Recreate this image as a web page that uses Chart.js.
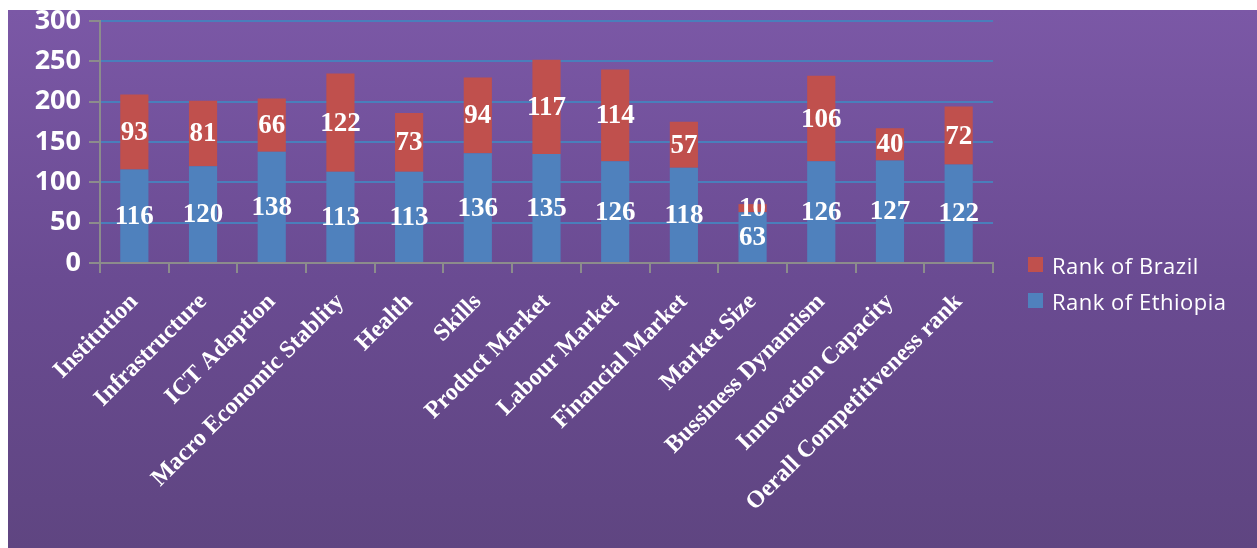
<!DOCTYPE html>
<html>
<head>
<meta charset="utf-8">
<script src="https://cdn.jsdelivr.net/npm/chart.js@4/dist/chart.umd.min.js"></script>
<style>
  html, body { margin: 0; padding: 0; background: #ffffff; width: 1257px; height: 548px; overflow: hidden; }
  #frame { position: absolute; left: 8px; top: 10px; width: 1249px; height: 538px;
           background: linear-gradient(to bottom, #7b58a6 0%, #6a4b92 50%, #5f4581 100%); }
  #chart { position: absolute; left: 0; top: 0; width: 1249px; height: 538px; }
  #legend { position: absolute; left: 1020px; top: 237px; font-family: "Open Sans", "Noto Sans", sans-serif;
            font-size: 22px; letter-spacing: 0.5px; color: #ffffff; }
  .item { position: relative; height: 36px; line-height: 36px; padding-left: 24px; white-space: nowrap; }
  .sw { position: absolute; left: 0; top: 10px; width: 15px; height: 15px; }
</style>
</head>
<body>
<div id="frame">
  <canvas id="chart" width="1249" height="538"></canvas>
  <div id="legend"></div>
</div>
<script>
const categories = ["Institution", "Infrastructure", "ICT Adaption", "Macro Economic Stablity", "Health",
  "Skills", "Product Market", "Labour Market", "Financial Market", "Market Size",
  "Bussiness Dynamism", "Innovation Capacity", "Oerall Competitiveness rank"];
const ethiopiaRank = [116, 120, 138, 113, 113, 136, 135, 126, 118, 63, 126, 127, 122];
const brazilRank = [93, 81, 66, 122, 73, 94, 117, 114, 57, 10, 106, 40, 72];
const seriesNames = ["Rank of Ethiopia", "Rank of Brazil"];
const yTicks = [0, 50, 100, 150, 200, 250, 300];

const BLUE = "#4f81bd";
const RED = "#c0504d";

const valueLabels = {
  id: "valueLabels",
  afterDatasetsDraw(chart) {
    const ctx = chart.ctx;
    ctx.save();
    ctx.font = "bold 27px 'Liberation Serif', 'Times New Roman', serif";
    ctx.fillStyle = "#ffffff";
    ctx.textAlign = "center";
    ctx.textBaseline = "middle";
    chart.data.datasets.forEach((ds, di) => {
      const meta = chart.getDatasetMeta(di);
      meta.data.forEach((el, i) => {
        const y = (el.y + el.base) / 2;
        ctx.fillText(String(ds.data[i]), el.x, y + 1);
      });
    });
    ctx.restore();
  }
};

const chart = new Chart(document.getElementById("chart"), {
  type: "bar",
  data: {
    labels: categories,
    datasets: [
      { label: seriesNames[0], data: ethiopiaRank, backgroundColor: BLUE, borderWidth: 0,
        barPercentage: 0.41, categoryPercentage: 1.0 },
      { label: seriesNames[1], data: brazilRank, backgroundColor: RED, borderWidth: 0,
        barPercentage: 0.41, categoryPercentage: 1.0 }
    ]
  },
  options: {
    responsive: false,
    animation: false,
    devicePixelRatio: 1,
    layout: { padding: { left: 0, right: 264, top: 11, bottom: 0 } },
    plugins: { legend: { display: false }, tooltip: { enabled: false } },
    scales: {
      x: {
        stacked: true,
        grid: { display: true, drawOnChartArea: false, drawTicks: true, tickLength: 10,
                tickColor: "#8c8c8c", lineWidth: 2, offset: true },
        border: { display: true, color: "#8c8c8c", width: 2 },
        ticks: {
          autoSkip: false, minRotation: 45, maxRotation: 45, padding: 15,
          color: "#ffffff",
          font: { family: "'Liberation Serif', 'Times New Roman', serif", weight: "bold", size: 24 }
        },
        afterFit(scale) { scale.height = 285; scale.paddingLeft = 0; scale.paddingRight = 0; }
      },
      y: {
        stacked: true,
        min: 0, max: 300,
        afterBuildTicks(scale) { scale.ticks = yTicks.map(v => ({ value: v })); },
        grid: { color: "#4a7ebb", lineWidth: 2, tickLength: 11, tickColor: "#8c8c8c", drawTicks: true },
        border: { display: true, color: "#8c8c8c", width: 2 },
        ticks: {
          padding: 8, color: "#ffffff",
          font: { family: "'Open Sans', 'Noto Sans', sans-serif", weight: "bold", size: 27 }
        },
        afterFit(scale) { scale.width = 92; scale.paddingTop = 0; scale.paddingBottom = 0; }
      }
    }
  },
  plugins: [valueLabels]
});

// legend (Brazil first, as in the reference)
const legend = document.getElementById("legend");
[[seriesNames[1], RED], [seriesNames[0], BLUE]].forEach(([name, col]) => {
  const d = document.createElement("div");
  d.className = "item";
  d.innerHTML = '<span class="sw" style="background:' + col + '"></span>' + name;
  legend.appendChild(d);
});
</script>
</body>
</html>
